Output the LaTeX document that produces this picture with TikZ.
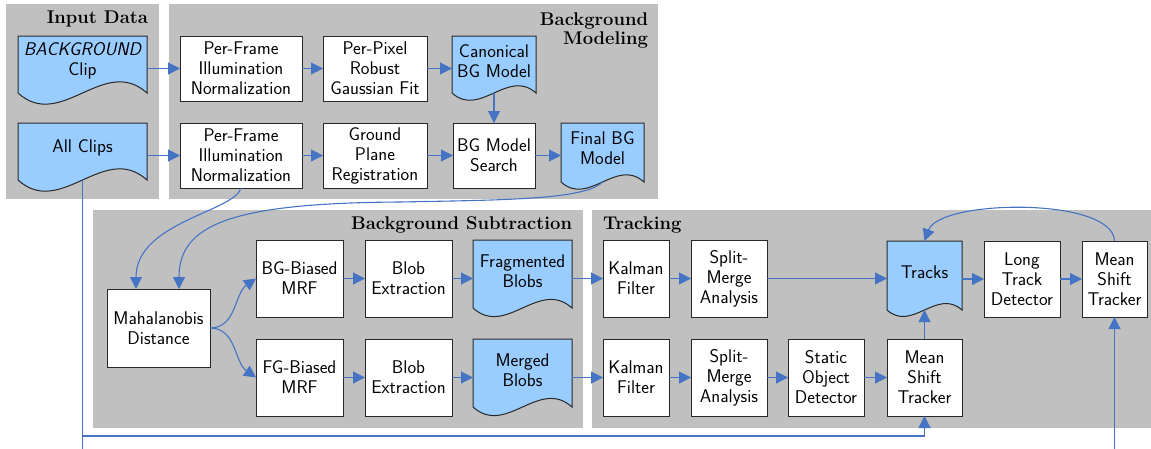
\documentclass[tikz,border=0pt]{standalone}
\usepackage{fontspec}
\usetikzlibrary{arrows.meta,calc}
\pgfdeclarelayer{panels}
\pgfdeclarelayer{docs}
\pgfsetlayers{panels,docs,main}
\definecolor{panelgray}{RGB}{192,192,192}
\definecolor{docblue}{RGB}{153,204,255}
\definecolor{connblue}{RGB}{70,116,196}
\definecolor{edgecol}{RGB}{40,40,40}
\tikzset{
  box/.style={draw=edgecol, fill=white, line width=1pt, inner sep=0pt, outer sep=0pt, align=center, font=\sffamily\fontsize{18.4}{20}\selectfont},
  doctext/.style={inner sep=0pt, outer sep=0pt, align=center, font=\sffamily\fontsize{18.4}{20}\selectfont},
  docshape/.style={draw=edgecol, fill=docblue, line width=1pt},
  title/.style={inner sep=0pt, outer sep=0pt, align=right, font=\rmfamily\bfseries\fontsize{18.4}{19.5}\selectfont},
  conn/.style={draw=connblue, line width=1.1pt, -{Triangle[length=12pt,width=12pt]}},
}
\newcommand{\docnode}[7]{%
  \begin{pgfonlayer}{docs}
  \draw[docshape] (#2,#3) -- ({#2+#4},#3) -- ({#2+#4},{#3+#5})
     .. controls ({#2+2*#4/3},{#3+#5-0.3*#4}) and ({#2+#4/3},{#3+#5+0.3*#4}) .. (#2,{#3+#5}) -- cycle;
  \end{pgfonlayer}
  \node[doctext, minimum width=#4, minimum height=#6] (#1) at ({#2+#4/2},{#3+#6/2}) {#7};
  \coordinate (#1-b) at ({#2+#4/2},{#3+#5});
}
\begin{document}
\begin{tikzpicture}[x=1pt,y=-1pt]
\useasboundingbox (0,0) rectangle (1151,448);
\begin{pgfonlayer}{panels}
  \fill[panelgray] (6,4) rectangle (159,199);
  \fill[panelgray] (169,4) rectangle (658,199);
  \fill[panelgray] (93,210) rectangle (583,428);
  \fill[panelgray] (592,210) rectangle (1155,428);
\end{pgfonlayer}
% titles
\node[title, anchor=base east] (tin) at (148,23.5) {Input Data};
\node[title, anchor=north east] (tbm) at (648,12.5) {Background\\Modeling};
\node[title, anchor=base east] (tbs) at (572,229.5) {Background Subtraction};
\node[title, anchor=base west] (ttr) at (603,229.5) {Tracking};
% document nodes
\docnode{bgclip}{18}{36}{129}{57}{50}{{\itshape BACKGROUND}\\Clip}
\docnode{allclips}{18}{123}{129}{57}{50}{All Clips}
\docnode{canon}{452}{36}{84}{57}{50}{Canonical\\BG Model}
\docnode{final}{561}{123}{83}{59}{50}{Final BG\\Model}
\docnode{frag}{473}{240}{99}{68}{62}{Fragmented\\Blobs}
\docnode{merged}{473}{339}{99}{68}{62}{Merged\\Blobs}
\docnode{tracks}{887}{241}{75}{69}{62}{Tracks}
% boxes
\node[box, minimum width=122, minimum height=65] (pfin1) at (241,68.5) {Per-Frame\\Illumination\\Normalization};
\node[box, minimum width=104, minimum height=65] (ppr) at (375,68.5) {Per-Pixel\\Robust\\Gaussian Fit};
\node[box, minimum width=122, minimum height=65] (pfin2) at (241,155.5) {Per-Frame\\Illumination\\Normalization};
\node[box, minimum width=104, minimum height=65] (gpr) at (375,155.5) {Ground\\Plane\\Registration};
\node[box, minimum width=82, minimum height=65] (search) at (494,155.5) {BG Model\\Search};
\node[box, minimum width=103, minimum height=78] (maha) at (158.5,328) {Mahalanobis\\Distance};
\node[box, minimum width=87, minimum height=77] (bgmrf) at (299.5,278.5) {BG-Biased\\MRF};
\node[box, minimum width=87, minimum height=77] (fgmrf) at (299.5,377.5) {FG-Biased\\MRF};
\node[box, minimum width=87, minimum height=77] (blob1) at (408.5,278.5) {Blob\\Extraction};
\node[box, minimum width=87, minimum height=77] (blob2) at (408.5,377.5) {Blob\\Extraction};
\node[box, minimum width=66, minimum height=77] (kal1) at (636,278.5) {Kalman\\Filter};
\node[box, minimum width=76, minimum height=77] (sm1) at (729,278.5) {Split-\\Merge\\Analysis};
\node[box, minimum width=66, minimum height=77] (kal2) at (636,377.5) {Kalman\\Filter};
\node[box, minimum width=76, minimum height=77] (sm2) at (729,377.5) {Split-\\Merge\\Analysis};
\node[box, minimum width=76, minimum height=77] (static) at (826,377.5) {Static\\Object\\Detector};
\node[box, minimum width=75, minimum height=77] (mst1) at (924.5,377.5) {Mean\\Shift\\Tracker};
\node[box, minimum width=76, minimum height=76] (ltd) at (1022,279) {Long\\Track\\Detector};
\node[box, minimum width=65, minimum height=76] (mst2) at (1114.5,279) {Mean\\Shift\\Tracker};
% connectors: background modeling
\draw[conn] (bgclip.east |- pfin1) -- (pfin1.west);
\draw[conn] (pfin1) -- (ppr);
\draw[conn] (ppr.east) -- (ppr.east -| canon.west);
\draw[conn] (canon-b) -- (search.north);
\draw[conn] (allclips.east |- pfin2) -- (pfin2.west);
\draw[conn] (pfin2) -- (gpr);
\draw[conn] (gpr) -- (search);
\draw[conn] (search.east) -- (search.east -| final.west);
% to mahalanobis
\draw[conn] (pfin2.south) .. controls (234,212) and (136,222) .. ([xshift=-22.5pt]maha.north);
\draw[conn] (final-b) .. controls (585,200) and (500,200) .. (400,202) .. controls (230,203) and (179,225) .. ([xshift=20.5pt]maha.north);
% background subtraction
\draw[conn] (maha.east) to[out=0,in=215] (bgmrf.west);
\draw[conn] (maha.east) to[out=0,in=145] (fgmrf.west);
\draw[conn] (bgmrf) -- (blob1);
\draw[conn] (fgmrf) -- (blob2);
\draw[conn] (blob1.east) -- (blob1.east -| frag.west);
\draw[conn] (blob2.east) -- (blob2.east -| merged.west);
\draw[conn] (frag.east |- kal1) -- (kal1.west);
\draw[conn] (merged.east |- kal2) -- (kal2.west);
% tracking
\draw[conn] (kal1) -- (sm1);
\draw[conn] (kal2) -- (sm2);
\draw[conn] (sm1.east) -- (sm1.east -| tracks.west);
\draw[conn] (sm2) -- (static);
\draw[conn] (static) -- (mst1);
\draw[conn] (mst1.north) -- (tracks-b);
\draw[conn] (tracks.east |- ltd) -- (ltd.west);
\draw[conn] (ltd) -- (mst2);
\draw[conn] (mst2.north) to[out=92,in=70,looseness=0.6] (tracks.north);
% long lines from All Clips
\coordinate (low1) at (0,436);
\coordinate (low2) at (0,470);
\draw[conn] (allclips-b) -- (allclips-b |- low1) -| (mst1.south);
\draw[conn] (allclips-b) -- (allclips-b |- low2) -| (mst2.south);
\end{tikzpicture}
\end{document}
